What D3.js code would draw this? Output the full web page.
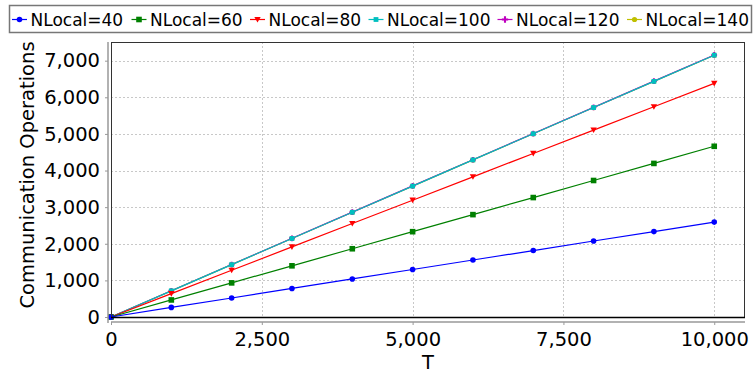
<!DOCTYPE html>
<html>
<head>
<meta charset="utf-8">
<script src="https://cdn.jsdelivr.net/npm/d3@7"></script>
<style>
  html, body { margin: 0; padding: 0; background: #fff; }
  svg { display: block; font-family: "DejaVu Sans", sans-serif; }
</style>
</head>
<body>
<svg id="chart" width="754" height="374"></svg>
<script>
// Time steps on the x axis
const T = [0, 1000, 2000, 3000, 4000, 5000, 6000, 7000, 8000, 9000, 10000];

// Communication operations per NLocal setting
const nLocal40  = [0, 262, 520, 780, 1040, 1298, 1556, 1815, 2075, 2333, 2592];
const nLocal60  = [0, 466, 932, 1398, 1864, 2330, 2796, 3262, 3728, 4194, 4662];
const nLocal80  = [0, 638, 1276, 1914, 2552, 3190, 3828, 4466, 5104, 5742, 6380];
const nLocal100 = [0, 715, 1430, 2145, 2860, 3575, 4290, 5005, 5720, 6435, 7150];
const nLocal120 = [0, 717, 1433, 2149, 2865, 3580, 4295, 5010, 5726, 6441, 7157];
const nLocal140 = [0, 715, 1430, 2145, 2860, 3575, 4290, 5005, 5720, 6435, 7150];

const seriesNames = ["NLocal=40", "NLocal=60", "NLocal=80", "NLocal=100", "NLocal=120", "NLocal=140"];
const seriesValues = [nLocal40, nLocal60, nLocal80, nLocal100, nLocal120, nLocal140];
const seriesColors = ["#0000ff", "#008000", "#ff0000", "#00bfbf", "#bf00bf", "#bfbf00"];

const xTicks = [0, 2500, 5000, 7500, 10000];
const yTicks = [0, 1000, 2000, 3000, 4000, 5000, 6000, 7000];

const svg = d3.select("#chart");

const plot = { left: 111, right: 745, top: 42, bottom: 318 };

const x = d3.scaleLinear().domain([0, 10510]).range([plot.left, plot.right]);
const y = d3.scaleLinear().domain([-27, 7510]).range([plot.bottom, plot.top]);
const fmt = d3.format(",");

// Marker shapes for each series
function drawMarker(g, i, cx, cy, color, legendMode) {
  if (i === 0 || i === 5) {
    g.append("circle").attr("cx", cx).attr("cy", cy).attr("r", i === 0 ? 2.8 : 2.6).attr("fill", color);
  } else if (i === 1) {
    g.append("rect").attr("x", cx - 2.8).attr("y", cy - 2.8).attr("width", 5.6).attr("height", 5.6).attr("fill", color);
  } else if (i === 2) {
    g.append("path").attr("d", `M${cx - 3.2},${cy - 2.6}L${cx + 3.2},${cy - 2.6}L${cx},${cy + 3}Z`).attr("fill", color);
  } else if (i === 3) {
    g.append("rect").attr("x", cx - 2.4).attr("y", cy - 2.4).attr("width", 4.8).attr("height", 4.8).attr("fill", color);
  } else if (i === 4) {
    g.append("path").attr("d", d3.symbol(d3.symbolCross, legendMode ? 22 : 18)()).attr("transform", `translate(${cx},${cy})`).attr("fill", color);
  }
}

// Plot background
svg.append("rect")
  .attr("x", plot.left).attr("y", plot.top)
  .attr("width", plot.right - plot.left).attr("height", plot.bottom - plot.top)
  .attr("fill", "#fff");

// Dotted gridlines
const grid = svg.append("g").attr("stroke", "#c8c8c8").attr("stroke-width", 1).attr("stroke-dasharray", "2,2");
yTicks.filter(v => v > 0).forEach(v => {
  grid.append("line").attr("x1", plot.left).attr("x2", plot.right)
    .attr("y1", Math.round(y(v)) + 0.5).attr("y2", Math.round(y(v)) + 0.5);
});
xTicks.filter(v => v > 0).forEach(v => {
  grid.append("line").attr("y1", plot.top).attr("y2", plot.bottom)
    .attr("x1", Math.round(x(v)) + 0.5).attr("x2", Math.round(x(v)) + 0.5);
});

// Series lines and markers, later series underneath
const line = d3.line().x((d, j) => x(T[j])).y(d => y(d));
for (let i = seriesValues.length - 1; i >= 0; i--) {
  const g = svg.append("g");
  g.append("path").datum(seriesValues[i]).attr("d", line)
    .attr("fill", "none").attr("stroke", seriesColors[i]).attr("stroke-width", 1.2);
  seriesValues[i].forEach((v, j) => drawMarker(g, i, x(T[j]), y(v), seriesColors[i], false));
}

// Plot border
svg.append("rect")
  .attr("x", plot.left + 0.5).attr("y", plot.top + 0.5)
  .attr("width", plot.right - plot.left - 1).attr("height", plot.bottom - plot.top - 1)
  .attr("fill", "none").attr("stroke", "#333").attr("stroke-width", 1);
svg.append("line").attr("x1", plot.left).attr("x2", plot.right)
  .attr("y1", plot.bottom - 0.5).attr("y2", plot.bottom - 0.5)
  .attr("stroke", "#000").attr("stroke-width", 1.5);

// Y axis
const yAxis = d3.axisLeft(y).tickValues(yTicks).tickFormat(fmt).tickSize(3).tickPadding(5);
const yg = svg.append("g").attr("transform", "translate(108,0)").call(yAxis);
yg.select(".domain").attr("stroke", "#999").attr("stroke-width", 1.5).attr("d", `M0,${plot.top}V${plot.bottom + 5}`);
yg.selectAll(".tick line").attr("stroke", "#999");
yg.selectAll("text").attr("font-size", 19.5).attr("fill", "#000").attr("font-family", "DejaVu Sans");

// X axis
const xAxis = d3.axisBottom(x).tickValues(xTicks).tickFormat(fmt).tickSize(3).tickPadding(7);
const xg = svg.append("g").attr("transform", "translate(0,322)").call(xAxis);
xg.select(".domain").attr("stroke", "#999").attr("stroke-width", 1.5).attr("d", `M${plot.left},0H${plot.right}`);
xg.selectAll(".tick line").attr("stroke", "#999");
xg.selectAll("text").attr("font-size", 19.5).attr("fill", "#000").attr("font-family", "DejaVu Sans");

// Axis titles
svg.append("text")
  .attr("transform", "translate(34,175) rotate(-90)")
  .attr("text-anchor", "middle").attr("font-size", 19.5).attr("fill", "#000")
  .text("Communication Operations");
svg.append("text")
  .attr("x", (plot.left + plot.right) / 2).attr("y", 369)
  .attr("text-anchor", "middle").attr("font-size", 19.5).attr("fill", "#000")
  .text("T");

// Legend: one row of items in a bordered box
const legendSlots = [12, 131.5, 250, 368.5, 497.5, 627];
const legend = svg.append("g");
legend.append("rect").attr("x", 9.5).attr("y", 5.5).attr("width", 742).attr("height", 27)
  .attr("fill", "#fff").attr("stroke", "#777").attr("stroke-width", 1.5);
seriesNames.forEach((name, i) => {
  const sx = legendSlots[i];
  const item = legend.append("g");
  item.append("line").attr("x1", sx).attr("x2", sx + 15).attr("y1", 19.5).attr("y2", 19.5)
    .attr("stroke", seriesColors[i]).attr("stroke-width", 1.2);
  drawMarker(item, i, sx + 7.5, 19.5, seriesColors[i], true);
  item.append("text").attr("x", sx + 18.5).attr("y", 26)
    .attr("font-size", 17).attr("fill", "#000").text(name);
});
</script>
</body>
</html>
